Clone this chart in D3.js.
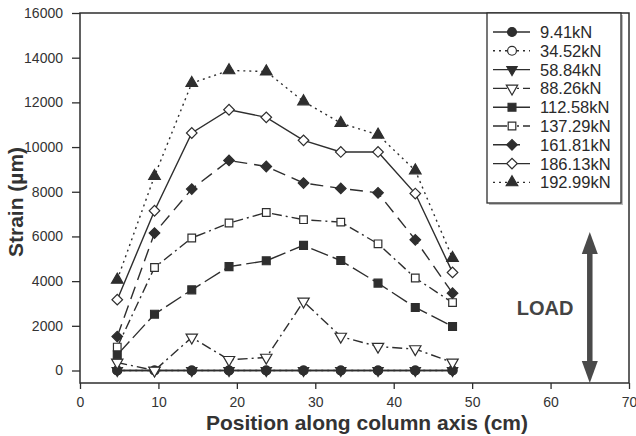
<!DOCTYPE html>
<html>
<head>
<meta charset="utf-8">
<script src="https://cdn.jsdelivr.net/npm/d3@7"></script>
<style>
  html, body { margin: 0; padding: 0; background: #fff; }
  svg { display: block; font-family: "Liberation Sans", Arial, sans-serif; }
</style>
</head>
<body>
<div id="mainDiv"></div>
<script>
'use strict';

// data
var positions = [4.75, 9.5, 14.25, 19, 23.75, 28.5, 33.25, 38, 42.75, 47.5];
var loads = ['9.41kN', '34.52kN', '58.84kN', '88.26kN', '112.58kN', '137.29kN', '161.81kN', '186.13kN', '192.99kN'];

var s941  = [0, 0, 0, 0, 0, 0, 0, 0, 0, 0];
var s3452 = [0, 0, 0, 0, 0, 0, 0, 0, 0, 0];
var s5884 = [0, 0, 0, 0, 0, 0, 0, 0, 0, 0];
var s8826 = [360, 0, 1480, 480, 580, 3090, 1520, 1070, 960, 360];
var s11258 = [700, 2520, 3610, 4650, 4910, 5600, 4920, 3910, 2820, 1970];
var s13729 = [1050, 4610, 5930, 6600, 7070, 6750, 6640, 5670, 4140, 3040];
var s16181 = [1520, 6150, 8120, 9400, 9130, 8390, 8150, 7950, 5850, 3460];
var s18613 = [3170, 7150, 10630, 11670, 11330, 10300, 9780, 9780, 7920, 4390];
var s19299 = [4060, 8700, 12860, 13430, 13380, 12040, 11070, 10550, 8950, 5030];

var xTicks = [0, 10, 20, 30, 40, 50, 60, 70];
var yTicks = [0, 2000, 4000, 6000, 8000, 10000, 12000, 14000, 16000];

var xTitle = 'Position along column axis (cm)';
var yTitle = 'Strain (\u00b5m)';
var loadLabel = 'LOAD';
var loadArrowX = 65;      // cm
var loadArrowTop = 6200;  // strain level of the arrow tip
var loadLabelX = 59.3;
var loadLabelY = 2480;

// chart settings
var chart = {};
chart.w = 549;
chart.h = 370;
chart.margins = {top: 13, left: 80};
chart.ink = '#2e2e2e';

// marker and line style per series (same order as loads)
chart.styles = [
    {sym: d3.symbolCircle,   size: 62, rot: 0,   open: false, dash: null},
    {sym: d3.symbolCircle,   size: 62, rot: 0,   open: true,  dash: '2,4'},
    {sym: d3.symbolTriangle, size: 46, rot: 180, open: false, dash: null},
    {sym: d3.symbolTriangle, size: 56, rot: 180, open: true,  dash: '10,4,2,4'},
    {sym: d3.symbolSquare,   size: 62, rot: 0,   open: false, dash: '18,5'},
    {sym: d3.symbolSquare,   size: 58, rot: 0,   open: true,  dash: '10,4,2,4'},
    {sym: d3.symbolSquare,   size: 56, rot: 45,  open: false, dash: '13,7'},
    {sym: d3.symbolSquare,   size: 56, rot: 45,  open: true,  dash: null},
    {sym: d3.symbolTriangle, size: 58, rot: 0,   open: false, dash: '2,4'}
];

chart.run = function()
{
    var series = [s941, s3452, s5884, s8826, s11258, s13729, s16181, s18613, s19299];

    var svg = d3.select('#mainDiv').append('svg')
        .attr('width', 636)
        .attr('height', 436);

    var g = svg.append('g')
        .attr('transform', 'translate(' + chart.margins.left + ',' + chart.margins.top + ')');

    var x = d3.scaleLinear().domain([0, 70]).range([0, chart.w]);
    var y = d3.scaleLinear().domain([0, 16000]).range([357.5, 0]);

    // axes
    var yAxis = g.append('g')
        .call(d3.axisLeft(y).tickValues(yTicks).tickSizeInner(8).tickSizeOuter(0).tickPadding(9)
            .tickFormat(d3.format('d')));
    var xAxis = g.append('g')
        .attr('transform', 'translate(0,' + chart.h + ')')
        .call(d3.axisBottom(x).tickValues(xTicks).tickSizeInner(6).tickSizeOuter(0).tickPadding(8));

    [xAxis, yAxis].forEach(function(a) {
        a.select('.domain').remove();
        a.selectAll('line').attr('stroke', chart.ink).attr('stroke-width', 1.3);
        a.selectAll('text').attr('fill', '#333').style('font-size', '14px');
    });

    // frame
    g.append('rect')
        .attr('width', chart.w)
        .attr('height', chart.h)
        .attr('fill', 'none')
        .attr('stroke', chart.ink)
        .attr('stroke-width', 1.5);

    // series, drawn so the zero lines sit on top of each other like the original
    var order = [2, 1, 0, 3, 4, 5, 6, 7, 8];
    var line = d3.line()
        .x(function(d, i) { return x(positions[i]); })
        .y(function(d) { return y(d); });

    order.forEach(function(k) {
        var st = chart.styles[k];
        var sg = g.append('g');
        sg.append('path')
            .datum(series[k])
            .attr('d', line)
            .attr('fill', 'none')
            .attr('stroke', chart.ink)
            .attr('stroke-width', 1.4)
            .attr('stroke-dasharray', st.dash);
        sg.selectAll('path.pt')
            .data(series[k])
            .enter()
            .append('path')
            .attr('class', 'pt')
            .attr('d', d3.symbol().type(st.sym).size(st.size))
            .attr('transform', function(d, i) {
                return 'translate(' + x(positions[i]) + ',' + y(d) + ') rotate(' + st.rot + ')';
            })
            .attr('fill', st.open ? '#fff' : chart.ink)
            .attr('stroke', chart.ink)
            .attr('stroke-width', 1.2);
    });

    // legend
    var lg = g.append('g').attr('transform', 'translate(407,0)');
    lg.append('rect')
        .attr('x', 2).attr('y', 2)
        .attr('width', 134).attr('height', 190)
        .attr('fill', '#bbb');
    lg.append('rect')
        .attr('width', 134).attr('height', 190)
        .attr('fill', '#fff')
        .attr('stroke', chart.ink)
        .attr('stroke-width', 1.3);

    var rows = lg.selectAll('g.row')
        .data(loads)
        .enter()
        .append('g')
        .attr('class', 'row')
        .attr('transform', function(d, i) { return 'translate(0,' + (19 + i * 18.8) + ')'; });

    rows.append('line')
        .attr('x1', 6).attr('x2', 43)
        .attr('stroke', chart.ink)
        .attr('stroke-width', 1.4)
        .attr('stroke-dasharray', function(d, i) {
            var st = chart.styles[i];
            if (st.dash === '2,4') return '2,4';
            if (st.dash === '10,4,2,4') return '14,4,2,4,2,4';
            if (st.dash === '13,7') return '16,6,5,10';
            return null;
        });
    rows.append('path')
        .attr('d', function(d, i) { return d3.symbol().type(chart.styles[i].sym).size(chart.styles[i].size)(); })
        .attr('transform', function(d, i) { return 'translate(25,0) rotate(' + chart.styles[i].rot + ')'; })
        .attr('fill', function(d, i) { return chart.styles[i].open ? '#fff' : chart.ink; })
        .attr('stroke', chart.ink)
        .attr('stroke-width', 1.2);
    rows.append('text')
        .attr('x', 53)
        .attr('dy', '0.36em')
        .attr('fill', '#2a2a2a')
        .style('font-size', '16.5px')
        .text(function(d) { return d; });

    // load arrow
    var ax = x(loadArrowX), aTop = y(loadArrowTop), aBot = chart.h;
    var head = 22, half = 8;
    g.append('line')
        .attr('x1', ax).attr('x2', ax)
        .attr('y1', aTop + head - 2).attr('y2', aBot - head + 2)
        .attr('stroke', '#4a4a4a')
        .attr('stroke-width', 5.5);
    g.append('path')
        .attr('d', 'M' + ax + ',' + aTop + 'L' + (ax + half) + ',' + (aTop + head) + 'L' + (ax - half) + ',' + (aTop + head) + 'Z')
        .attr('fill', '#4a4a4a');
    g.append('path')
        .attr('d', 'M' + ax + ',' + aBot + 'L' + (ax + half) + ',' + (aBot - head) + 'L' + (ax - half) + ',' + (aBot - head) + 'Z')
        .attr('fill', '#4a4a4a');

    g.append('text')
        .attr('x', x(loadLabelX))
        .attr('y', y(loadLabelY))
        .attr('text-anchor', 'middle')
        .attr('fill', '#444')
        .style('font-size', '20px')
        .style('font-weight', 'bold')
        .text(loadLabel);

    // axis titles
    svg.append('text')
        .attr('x', 367)
        .attr('y', 430)
        .attr('text-anchor', 'middle')
        .attr('fill', '#333')
        .style('font-size', '21px')
        .style('font-weight', 'bold')
        .text(xTitle);

    svg.append('text')
        .attr('transform', 'translate(23,202) rotate(-90)')
        .attr('text-anchor', 'middle')
        .attr('fill', '#333')
        .style('font-size', '21px')
        .style('font-weight', 'bold')
        .text(yTitle);
};

window.onload = chart.run;
</script>
</body>
</html>
